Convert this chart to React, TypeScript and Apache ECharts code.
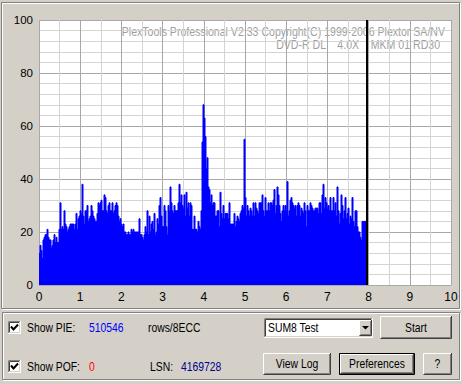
import React, { useEffect, useRef } from "react";
import * as echarts from "echarts";

// ---- data ----
const X_MIN = 0;
const X_MAX = 10;
const Y_MIN = 0;
const Y_MAX = 100;
const SAMPLE_STEP = 1 / 41.2; // GB per sample (one sample per pixel column)
const END_MARK = 7.95; // black marker at end of disc

const PIE_VALUES: number[] = [
  12, 15, 13, 10, 17, 18, 19, 19, 21, 18, 17, 17, 14, 15, 17, 19, 16, 18, 16, 16,
  21, 31, 21, 22, 21, 28, 23, 22, 20, 21, 22, 23, 23, 23, 23, 21, 23, 27, 21, 25,
  26, 28, 27, 38, 26, 23, 28, 28, 30, 24, 25, 26, 30, 28, 26, 25, 24, 24, 27, 31,
  30, 31, 32, 28, 28, 34, 33, 28, 27, 30, 31, 28, 28, 31, 27, 28, 30, 31, 30, 26,
  24, 25, 23, 22, 23, 20, 20, 19, 19, 20, 19, 19, 21, 20, 21, 20, 20, 20, 20, 20,
  25, 19, 19, 18, 17, 19, 22, 20, 28, 19, 26, 20, 23, 24, 21, 27, 19, 20, 25, 23,
  30, 33, 26, 22, 22, 30, 28, 22, 19, 30, 28, 37, 31, 28, 27, 30, 28, 28, 28, 31,
  38, 31, 34, 30, 29, 34, 26, 35, 29, 31, 26, 31, 30, 21, 21, 26, 21, 21, 20, 24,
  22, 21, 28, 54, 68, 63, 56, 44, 48, 37, 36, 31, 34, 30, 31, 31, 26, 26, 28, 28,
  22, 35, 27, 25, 30, 25, 27, 27, 27, 25, 31, 23, 23, 23, 23, 27, 22, 24, 26, 25,
  24, 27, 28, 30, 29, 55, 33, 26, 30, 28, 26, 29, 28, 26, 31, 26, 31, 29, 28, 27,
  31, 31, 31, 34, 28, 26, 33, 28, 28, 31, 28, 31, 31, 30, 32, 36, 27, 30, 37, 34,
  30, 27, 24, 28, 30, 28, 30, 28, 39, 26, 28, 32, 33, 31, 30, 29, 30, 26, 30, 31,
  30, 26, 29, 28, 27, 31, 28, 22, 30, 28, 28, 31, 30, 29, 28, 28, 29, 29, 29, 27,
  31, 31, 27, 34, 38, 29, 33, 31, 29, 30, 28, 33, 28, 28, 33, 28, 31, 26, 37, 28,
  23, 27, 34, 30, 25, 28, 33, 25, 27, 29, 23, 26, 25, 33, 24, 22, 28, 28, 22, 20,
  20, 18, 17, 24, 24, 24, 24, 20,
];

const TITLE_LINE1 = "PlexTools Professional V2.33 Copyright(C) 1999-2006 Plextor SA/NV";
const TITLE_LINE2 = "DVD-R DL    4.0X    MKM 01 RD30";
const PIE_LABEL = "Show PIE:";
const PIE_TOTAL = "510546";
const PIE_UNIT = "rows/8ECC";
const POF_LABEL = "Show POF:";
const POF_TOTAL = "0";
const LSN_LABEL = "LSN:";
const LSN_VALUE = "4169728";
const TEST_NAME = "SUM8 Test";
const BUTTONS = ["Start", "View Log", "Preferences", "?"];

// ---- styling ----
const FACE = "#d4d0c8";
const FONT = '"Liberation Sans", Arial, sans-serif';
const FS = 12.5;
const SX = 0.83;

function txt(x: number, y: number, text: string, fill = "#000", align = "left", size = FS, sx = SX) {
  return {
    type: "text",
    x,
    y,
    scaleX: sx,
    silent: true,
    style: {
      text,
      fill,
      fontSize: size,
      fontFamily: FONT,
      align,
      textAlign: align,
      verticalAlign: "middle",
      textVerticalAlign: "middle",
    },
  };
}

function pl(points: number[][], stroke: string, lineWidth = 1) {
  return { type: "polyline", silent: true, shape: { points }, style: { stroke, lineWidth, fill: null } };
}

function raised(x: number, y: number, w: number, h: number) {
  return [
    { type: "rect", silent: true, shape: { x, y, width: w, height: h }, style: { fill: FACE } },
    pl([[x + 0.5, y + h - 1], [x + 0.5, y + 0.5], [x + w - 1, y + 0.5]], "#ffffff"),
    pl([[x + 0.5, y + h - 0.5], [x + w - 0.5, y + h - 0.5], [x + w - 0.5, y]], "#404040"),
    pl([[x + 1.5, y + h - 1.5], [x + w - 1.5, y + h - 1.5], [x + w - 1.5, y + 1]], "#808080"),
  ];
}

function sunken(x: number, y: number, w: number, h: number) {
  return [
    { type: "rect", silent: true, shape: { x, y, width: w, height: h }, style: { fill: "#ffffff" } },
    pl([[x + 0.5, y + h - 1], [x + 0.5, y + 0.5], [x + w - 1, y + 0.5]], "#808080"),
    pl([[x + 1.5, y + h - 2], [x + 1.5, y + 1.5], [x + w - 2, y + 1.5]], "#404040"),
    pl([[x, y + h - 0.5], [x + w - 0.5, y + h - 0.5], [x + w - 0.5, y]], "#ffffff"),
    pl([[x + 1, y + h - 1.5], [x + w - 1.5, y + h - 1.5], [x + w - 1.5, y + 1]], FACE),
  ];
}

function button(x: number, y: number, w: number, h: number, label: string, isDefault = false) {
  const els: any[] = [];
  if (isDefault) {
    els.push({ type: "rect", silent: true, shape: { x: x + 0.5, y: y + 0.5, width: w - 1, height: h - 1 }, style: { fill: FACE, stroke: "#000", lineWidth: 1 } });
    els.push(...raised(x + 1, y + 1, w - 2, h - 2));
  } else {
    els.push(...raised(x, y, w, h));
  }
  els.push(txt(x + w / 2, y + h / 2, label, "#000", "center"));
  return els;
}

function checkbox(x: number, y: number) {
  return [
    ...sunken(x, y, 13, 13),
    pl([[x + 3, y + 5.5], [x + 5.5, y + 8.5], [x + 10, y + 3.5]], "#000", 2),
  ];
}

function etched(x: number, y: number, w: number, h: number) {
  return [
    { type: "rect", silent: true, shape: { x: x + 1.5, y: y + 1.5, width: w - 2, height: h - 2 }, style: { fill: null, stroke: "#ffffff", lineWidth: 1 } },
    { type: "rect", silent: true, shape: { x: x + 0.5, y: y + 0.5, width: w - 2, height: h - 2 }, style: { fill: null, stroke: "#808080", lineWidth: 1 } },
  ];
}

export default function App() {
  const ref = useRef<HTMLDivElement>(null);

  useEffect(() => {
    document.body.style.margin = "0";
    if (!ref.current) return;
    const chart = echarts.init(ref.current, null, { renderer: "svg" });

    const seriesData: number[][] = PIE_VALUES.map((v, i) => [i * SAMPLE_STEP, v]);
    seriesData.push([PIE_VALUES.length * SAMPLE_STEP, PIE_VALUES[PIE_VALUES.length - 1]]);

    const graphics: any[] = [
      ...etched(1, 2, 460, 308),
      ...etched(2, 312, 459, 69),
      txt(445, 32, TITLE_LINE1, "#a0a0a0", "right", FS, 0.845),
      txt(440, 45, TITLE_LINE2, "#a0a0a0", "right", FS, 0.845),
      ...checkbox(8, 321),
      txt(27, 327.5, PIE_LABEL),
      txt(89, 327.5, PIE_TOTAL, "#0000ff"),
      txt(148, 327.5, PIE_UNIT),
      ...checkbox(8, 360),
      txt(27, 366.5, POF_LABEL),
      txt(89, 366.5, POF_TOTAL, "#ff0000"),
      txt(150, 366.5, LSN_LABEL),
      txt(181, 366.5, LSN_VALUE, "#00008b"),
      ...sunken(264, 318, 109, 20),
      txt(268, 328, TEST_NAME),
      ...raised(359, 320, 13, 16),
      { type: "polygon", silent: true, shape: { points: [[362, 326], [369, 326], [365.5, 329.5]] }, style: { fill: "#000" } },
      ...button(380, 316, 72, 23, BUTTONS[0]),
      ...button(263, 353, 68, 22, BUTTONS[1]),
      ...button(339, 353, 76, 22, BUTTONS[2], true),
      ...button(423, 353, 29, 22, BUTTONS[3]),
    ];

    chart.setOption({
      animation: false,
      backgroundColor: FACE,
      grid: {
        left: 39,
        right: 11,
        top: 20,
        bottom: 99,
        show: true,
        backgroundColor: "#ffffff",
        borderWidth: 0,
      },
      xAxis: {
        type: "value",
        min: X_MIN,
        max: X_MAX,
        interval: 1,
        axisLine: { show: false },
        axisTick: { show: false },
        axisLabel: { color: "#000", fontSize: 12, fontFamily: FONT, margin: 6 },
        splitLine: { show: true, lineStyle: { color: "#a8a8a8", width: 1 } },
        minorTick: { show: false, splitNumber: 2 },
        minorSplitLine: { show: true, lineStyle: { color: "#d4d4d4", width: 1 } },
      },
      yAxis: {
        type: "value",
        min: Y_MIN,
        max: Y_MAX,
        interval: 20,
        axisLine: { show: false },
        axisTick: { show: false },
        axisLabel: { color: "#000", fontSize: 11.5, fontFamily: FONT, margin: 6 },
        splitLine: { show: true, lineStyle: { color: "#a8a8a8", width: 1 } },
        minorTick: { show: false, splitNumber: 5 },
        minorSplitLine: { show: true, lineStyle: { color: "#d4d4d4", width: 1 } },
      },
      series: [
        {
          type: "line",
          data: seriesData,
          step: "end",
          symbol: "none",
          silent: true,
          lineStyle: { color: "#0000ff", width: 1 },
          areaStyle: { color: "#0000ff", opacity: 1 },
          markLine: {
            silent: true,
            symbol: "none",
            label: { show: false },
            lineStyle: { color: "#000", width: 2, type: "solid" },
            data: [{ xAxis: END_MARK }],
          },
        },
      ],
      graphic: graphics,
    });

    return () => chart.dispose();
  }, []);

  return <div ref={ref} style={{ position: "absolute", left: 0, top: 0, width: 462, height: 384 }} />;
}
